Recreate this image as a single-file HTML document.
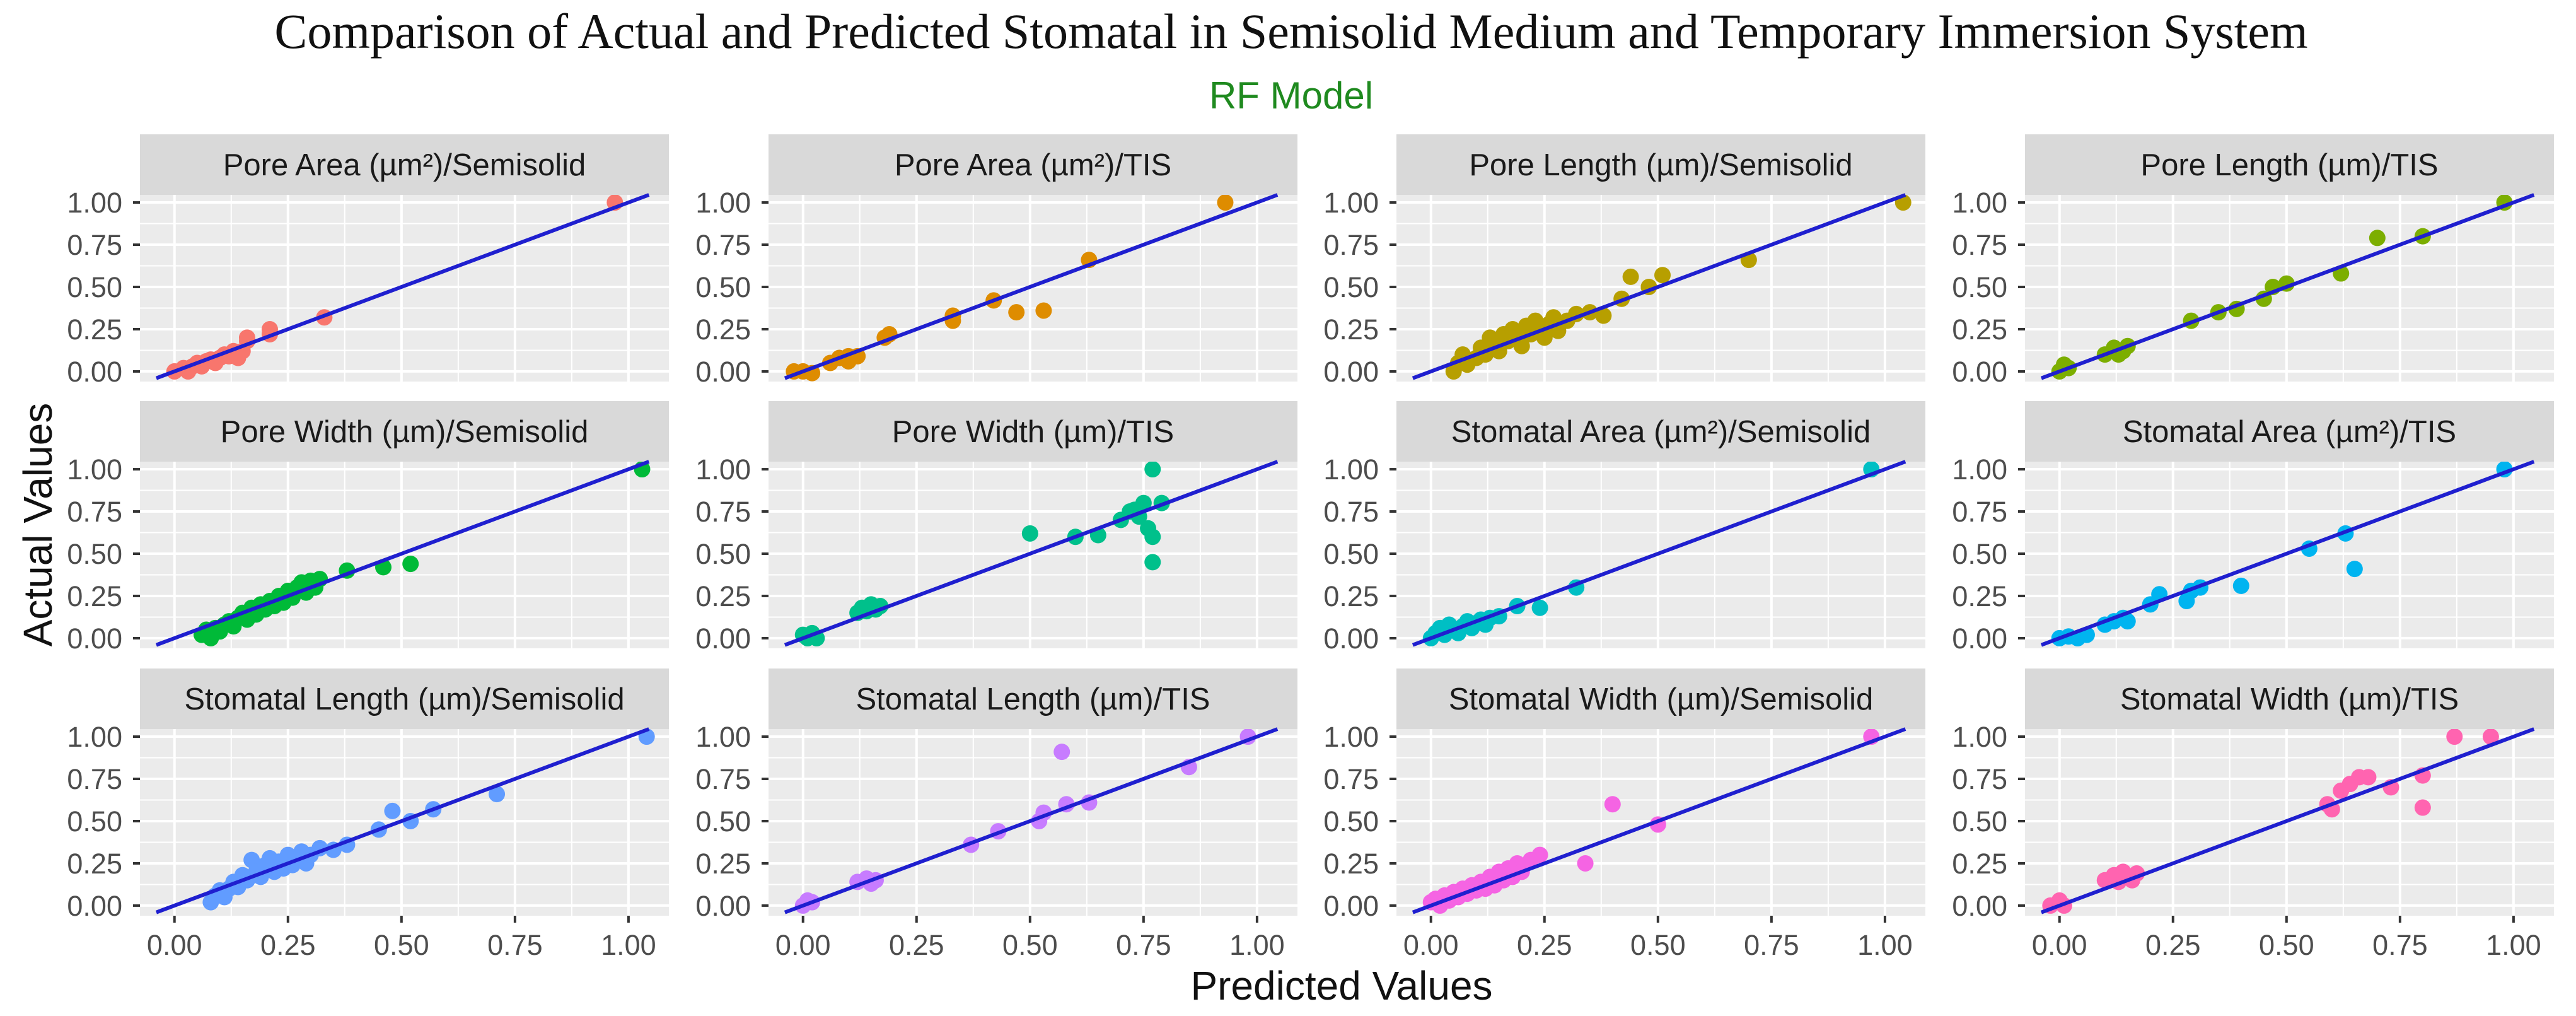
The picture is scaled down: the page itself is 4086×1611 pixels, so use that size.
<!DOCTYPE html>
<html><head><meta charset="utf-8"><style>
html,body{margin:0;padding:0;background:#fff;}
svg{display:block;}
</style></head><body>
<svg id="chart" width="4086" height="1611" viewBox="0 0 4086 1611" xmlns="http://www.w3.org/2000/svg">
<text x="2048" y="76" text-anchor="middle" font-family="Liberation Serif, serif" font-size="78" fill="#111">Comparison of Actual and Predicted Stomatal in Semisolid Medium and Temporary Immersion System</text>
<text x="2048" y="172" text-anchor="middle" font-family="Liberation Sans, sans-serif" font-size="60" fill="#1f8a1f">RF Model</text>
<text transform="translate(82,832) rotate(-90)" text-anchor="middle" font-family="Liberation Sans, sans-serif" font-size="64" fill="#111">Actual Values</text>
<text x="2128" y="1585" text-anchor="middle" font-family="Liberation Sans, sans-serif" font-size="64" fill="#111">Predicted Values</text>
<g id="panels"></g>
</svg>
<script>
const titles = ["Pore Area (µm²)/Semisolid","Pore Area (µm²)/TIS","Pore Length (µm)/Semisolid","Pore Length (µm)/TIS","Pore Width (µm)/Semisolid","Pore Width (µm)/TIS","Stomatal Area (µm²)/Semisolid","Stomatal Area (µm²)/TIS","Stomatal Length (µm)/Semisolid","Stomatal Length (µm)/TIS","Stomatal Width (µm)/Semisolid","Stomatal Width (µm)/TIS"];
const colors = ["#F8766D","#DE8C00","#B79F00","#7CAE00","#00BA38","#00C08B","#00BFC4","#00B4F0","#619CFF","#C77CFF","#F564E3","#FF64B0"];
const tickValues = [0,0.25,0.5,0.75,1];
const tickLabels = ["0.00","0.25","0.50","0.75","1.00"];
const p1 = [[0,0],[0.02,0.02],[0.03,0],[0.04,0.03],[0.05,0.05],[0.06,0.03],[0.07,0.06],[0.08,0.07],[0.09,0.05],[0.1,0.08],[0.11,0.1],[0.12,0.09],[0.13,0.12],[0.14,0.08],[0.15,0.12],[0.16,0.18],[0.16,0.2],[0.21,0.25],[0.21,0.22],[0.33,0.32],[0.97,1.0]];
const p2 = [[-0.02,0],[0,0],[0.02,-0.01],[0.06,0.05],[0.08,0.08],[0.1,0.09],[0.12,0.09],[0.1,0.06],[0.18,0.2],[0.19,0.22],[0.33,0.3],[0.33,0.33],[0.42,0.42],[0.47,0.35],[0.53,0.36],[0.63,0.66],[0.93,1.0]];
const p3 = [[0.05,0],[0.06,0.05],[0.07,0.1],[0.08,0.04],[0.1,0.08],[0.11,0.14],[0.12,0.1],[0.13,0.2],[0.14,0.15],[0.15,0.12],[0.16,0.22],[0.17,0.18],[0.18,0.25],[0.19,0.2],[0.2,0.15],[0.21,0.27],[0.22,0.22],[0.23,0.3],[0.24,0.25],[0.25,0.2],[0.26,0.28],[0.27,0.32],[0.28,0.24],[0.3,0.3],[0.32,0.34],[0.35,0.35],[0.38,0.33],[0.42,0.43],[0.44,0.56],[0.48,0.5],[0.51,0.57],[0.7,0.66],[1.04,1.0]];
const p4 = [[0,0],[0.02,0.02],[0.01,0.04],[0.1,0.1],[0.12,0.14],[0.14,0.12],[0.15,0.15],[0.13,0.1],[0.29,0.3],[0.35,0.35],[0.39,0.37],[0.45,0.43],[0.47,0.5],[0.5,0.52],[0.62,0.58],[0.7,0.79],[0.8,0.8],[0.98,1.0]];
const p5 = [[0.06,0.02],[0.07,0.05],[0.08,0],[0.09,0.06],[0.1,0.04],[0.11,0.08],[0.12,0.1],[0.13,0.07],[0.14,0.12],[0.15,0.15],[0.16,0.11],[0.17,0.18],[0.18,0.14],[0.19,0.2],[0.2,0.17],[0.21,0.22],[0.22,0.19],[0.23,0.25],[0.24,0.21],[0.25,0.28],[0.26,0.24],[0.27,0.3],[0.28,0.33],[0.29,0.27],[0.3,0.34],[0.31,0.3],[0.32,0.35],[0.38,0.4],[0.46,0.42],[0.52,0.44],[1.03,1.0]];
const p6 = [[0,0.02],[0.01,0],[0.03,0],[0.02,0.03],[0.12,0.15],[0.13,0.18],[0.14,0.16],[0.15,0.2],[0.16,0.17],[0.17,0.19],[0.5,0.62],[0.6,0.6],[0.65,0.61],[0.7,0.7],[0.72,0.75],[0.74,0.72],[0.75,0.8],[0.76,0.65],[0.77,1.0],[0.77,0.6],[0.77,0.45],[0.79,0.8],[0.73,0.76]];
const p7 = [[0,0],[0.01,0.03],[0.02,0.06],[0.03,0.02],[0.04,0.08],[0.05,0.05],[0.06,0.03],[0.07,0.07],[0.08,0.1],[0.09,0.06],[0.1,0.09],[0.11,0.11],[0.12,0.08],[0.13,0.12],[0.15,0.13],[0.19,0.19],[0.24,0.18],[0.32,0.3],[0.97,1.0]];
const p8 = [[0,0],[0.02,0.01],[0.04,0],[0.06,0.02],[0.1,0.08],[0.12,0.1],[0.14,0.12],[0.15,0.1],[0.2,0.2],[0.22,0.26],[0.28,0.22],[0.29,0.28],[0.31,0.3],[0.4,0.31],[0.55,0.53],[0.63,0.62],[0.65,0.41],[0.98,1.0]];
const p9 = [[0.08,0.02],[0.09,0.06],[0.1,0.09],[0.11,0.05],[0.12,0.1],[0.13,0.14],[0.14,0.11],[0.15,0.18],[0.16,0.15],[0.17,0.27],[0.18,0.2],[0.19,0.17],[0.2,0.24],[0.21,0.28],[0.22,0.2],[0.23,0.26],[0.24,0.22],[0.25,0.3],[0.26,0.24],[0.27,0.27],[0.28,0.32],[0.29,0.25],[0.3,0.3],[0.32,0.34],[0.35,0.33],[0.38,0.36],[0.45,0.45],[0.48,0.56],[0.52,0.5],[0.57,0.57],[0.71,0.66],[1.04,1.0]];
const p10 = [[0,0],[0.02,0.02],[0.01,0.03],[0.12,0.14],[0.14,0.16],[0.15,0.13],[0.16,0.15],[0.37,0.36],[0.43,0.44],[0.52,0.5],[0.53,0.55],[0.57,0.91],[0.58,0.6],[0.63,0.61],[0.85,0.82],[0.98,1.0]];
const p11 = [[0,0.02],[0.01,0.04],[0.02,0],[0.03,0.06],[0.04,0.03],[0.05,0.08],[0.06,0.05],[0.07,0.1],[0.08,0.07],[0.09,0.12],[0.1,0.09],[0.11,0.14],[0.12,0.1],[0.13,0.17],[0.14,0.12],[0.15,0.2],[0.16,0.15],[0.17,0.22],[0.18,0.17],[0.19,0.25],[0.2,0.2],[0.22,0.27],[0.24,0.3],[0.34,0.25],[0.4,0.6],[0.5,0.48],[0.97,1.0]];
const p12 = [[-0.02,0],[0,0.03],[0.01,0],[0.1,0.15],[0.12,0.18],[0.13,0.14],[0.14,0.2],[0.15,0.17],[0.16,0.15],[0.17,0.19],[0.59,0.6],[0.6,0.57],[0.62,0.68],[0.64,0.72],[0.66,0.76],[0.68,0.76],[0.73,0.7],[0.8,0.77],[0.8,0.58],[0.87,1.0],[0.95,1.0]];
const series = [p1,p2,p3,p4,p5,p6,p7,p8,p9,p10,p11,p12];

const NS = "http://www.w3.org/2000/svg";
const root = document.getElementById("panels");
const colLeft = [222,1219,2215,3212], rowTop = [213,636,1060];
const PW = 839, SH = 96, PH = 296;
const XMIN = -0.076, XMAX = 1.089, YMIN = -0.06, YMAX = 1.045;
function mk(tag, attrs, parent){ const e=document.createElementNS(NS,tag); for(const k in attrs) e.setAttribute(k,attrs[k]); parent.appendChild(e); return e; }

series.forEach((pts, i) => {
  const r = Math.floor(i/4), c = i%4;
  const L = colLeft[c], T = rowTop[r] + SH;
  const sx = v => L + (v - XMIN)/(XMAX - XMIN)*PW;
  const sy = v => T + PH - (v - YMIN)/(YMAX - YMIN)*PH;
  const g = mk("g", {}, root);
  
  
  const strip = mk("rect", {x:L, y:rowTop[r], width:PW, height:SH, fill:"#D9D9D9"}, g);
  
  
  const st = mk("text", {x:L+PW/2, y:rowTop[r]+SH/2+17, "text-anchor":"middle", "font-family":"Liberation Sans, sans-serif", "font-size":"49", fill:"#1A1A1A"}, g);
  st.textContent = titles[i];
  
  
  const bg = mk("rect", {x:L, y:T, width:PW, height:PH, fill:"#EBEBEB"}, g);
  
  
  const minor = [-0.125,0.125,0.375,0.625,0.875];
  minor.forEach(v => {
    if (v > XMIN && v < XMAX) { const l = mk("line", {x1:sx(v), x2:sx(v), y1:T, y2:T+PH, stroke:"#fff", "stroke-width":2}, g);   }
    if (v > YMIN && v < YMAX) { const l = mk("line", {x1:L, x2:L+PW, y1:sy(v), y2:sy(v), stroke:"#fff", "stroke-width":2}, g);   }
  });
  tickValues.forEach((v, k) => {
    const gx = mk("line", {x1:sx(v), x2:sx(v), y1:T, y2:T+PH, stroke:"#fff", "stroke-width":4}, g);
    
    
    const gy = mk("line", {x1:L, x2:L+PW, y1:sy(v), y2:sy(v), stroke:"#fff", "stroke-width":4}, g);
    
    
    const tk = mk("line", {x1:L-11, x2:L, y1:sy(v), y2:sy(v), stroke:"#333", "stroke-width":4}, g);
    
    
    const yl = mk("text", {x:L-28, y:sy(v)+16, "text-anchor":"end", "font-family":"Liberation Sans, sans-serif", "font-size":"45", fill:"#4D4D4D"}, g);
    yl.textContent = tickLabels[k];
    
    
    if (r === 2) {
      const xt = mk("line", {x1:sx(v), x2:sx(v), y1:T+PH, y2:T+PH+11, stroke:"#333", "stroke-width":4}, g);
      
      
      const xl = mk("text", {x:sx(v), y:T+PH+62, "text-anchor":"middle", "font-family":"Liberation Sans, sans-serif", "font-size":"45", fill:"#4D4D4D"}, g);
      xl.textContent = tickLabels[k];
      
      
    }
  });
  const cp = "clip" + i;
  const clip = mk("clipPath", {id:cp}, g);
  mk("rect", {x:L, y:T, width:PW, height:PH}, clip);
  const pg = mk("g", {"clip-path":"url(#"+cp+")"}, g);
  pts.forEach(p => {
    const ci = mk("circle", {cx:sx(p[0]), cy:sy(p[1]), r:13, fill:colors[i]}, pg);
    
    
  });
  const lo = Math.max(XMIN, YMIN) + 0.02, hi = Math.min(XMAX, YMAX);
  const ln = mk("line", {x1:sx(lo), y1:sy(lo), x2:sx(hi), y2:sy(hi), stroke:"#1f1fcf", "stroke-width":6}, g);
  
  
});
</script>
</body></html>
